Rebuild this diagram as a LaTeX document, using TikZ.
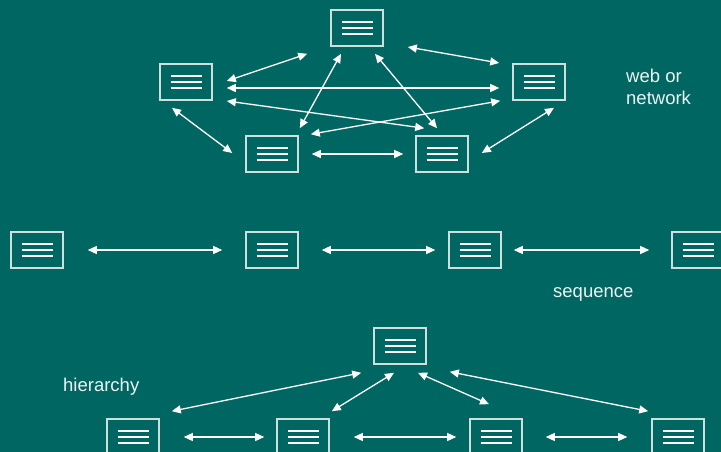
\documentclass[tikz,border=0pt]{standalone}
\usepackage{fontspec}
\setmainfont{Liberation Sans}
\usetikzlibrary{arrows.meta}
\definecolor{bgc}{RGB}{0,102,98}
\definecolor{boxc}{RGB}{205,224,222}
\definecolor{txtc}{RGB}{236,244,244}
\tikzset{
  doc/.style={draw=boxc, line width=1.6pt, minimum width=52pt, minimum height=36pt,
    inner sep=0pt, path picture={
      \foreach \dy in {-6,0,6}
        \draw[white, line width=1.5pt] ([shift={(-15.5pt,\dy pt)}]path picture bounding box.center) -- ++(31pt,0pt);
    }},
  arr/.style={draw=white, line width=1.3pt, {Triangle[length=9pt,width=8pt]}-{Triangle[length=9pt,width=8pt]}},
  lbl/.style={text=txtc, font=\fontsize{18.5pt}{21pt}\selectfont, anchor=base west, inner sep=0pt, align=left}
}
\begin{document}
\begin{tikzpicture}[x=1pt,y=-1pt]
\fill[bgc] (0,0) rectangle (721,452);
\useasboundingbox (0,0) rectangle (721,452);
\clip (0,0) rectangle (721,452);
% web
\node[doc] (w1) at (357,28) {};
\node[doc] (w2) at (186,82) {};
\node[doc] (w3) at (539,82) {};
\node[doc] (w4) at (272,154) {};
\node[doc] (w5) at (442,154) {};
\draw[arr] ([shift={(14,-1)}]w2.east) -- ([shift={(-23,7)}]w1.south west);
\draw[arr] ([shift={(14,6)}]w2.east) -- ([shift={(-13,6)}]w3.west);
\draw[arr] ([shift={(14,19)}]w2.east) -- ([shift={(9,-7)}]w5.north west);
\draw[arr] ([shift={(-14,7)}]w2.south) -- ([shift={(-13,-1)}]w4.west);
\draw[arr] ([shift={(-16,7)}]w1.south) -- ([shift={(1,-7)}]w4.north east);
\draw[arr] ([shift={(18,7)}]w1.south) -- ([shift={(-5,-7)}]w5.north);
\draw[arr] ([shift={(24,19)}]w1.east) -- ([shift={(-13,-19)}]w3.west);
\draw[arr] ([shift={(-12,0)}]w3.south west) -- ([shift={(12,-1)}]w4.north east);
\draw[arr] ([shift={(13,0)}]w4.east) -- ([shift={(-12,0)}]w5.west);
\draw[arr] ([shift={(15,7)}]w3.south) -- ([shift={(13,-1)}]w5.east);
\node[lbl] (tweb) at (626,83) {web or};
\node[lbl] (tnet) at (626,104) {network};
% sequence
\node[doc] (s1) at (37,250) {};
\node[doc] (s2) at (272,250) {};
\node[doc] (s3) at (475,250) {};
\node[doc] (s4) at (698,250) {};
\draw[arr] ([shift={(24,0)}]s1.east) -- ([shift={(-23,0)}]s2.west);
\draw[arr] ([shift={(23,0)}]s2.east) -- ([shift={(-13,0)}]s3.west);
\draw[arr] ([shift={(12,0)}]s3.east) -- ([shift={(-22,0)}]s4.west);
\node[lbl] (tseq) at (553,297) {sequence};
% hierarchy
\node[doc] (h0) at (400,346) {};
\node[doc] (h1) at (133,437) {};
\node[doc] (h2) at (303,437) {};
\node[doc] (h3) at (496,437) {};
\node[doc] (h4) at (678,437) {};
\draw[arr] ([shift={(-12,8)}]h0.south west) -- ([shift={(12,-7)}]h1.north east);
\draw[arr] ([shift={(-6,8)}]h0.south) -- ([shift={(2,-7)}]h2.north east);
\draw[arr] ([shift={(18,8)}]h0.south) -- ([shift={(-7,-14)}]h3.north);
\draw[arr] ([shift={(23,7)}]h0.south east) -- ([shift={(-3,-7)}]h4.north west);
\draw[arr] ([shift={(24,0)}]h1.east) -- ([shift={(-12,0)}]h2.west);
\draw[arr] ([shift={(24,0)}]h2.east) -- ([shift={(-13,0)}]h3.west);
\draw[arr] ([shift={(23,0)}]h3.east) -- ([shift={(-24,0)}]h4.west);
\node[lbl] (thier) at (63,391) {hierarchy};
\end{tikzpicture}
\end{document}
